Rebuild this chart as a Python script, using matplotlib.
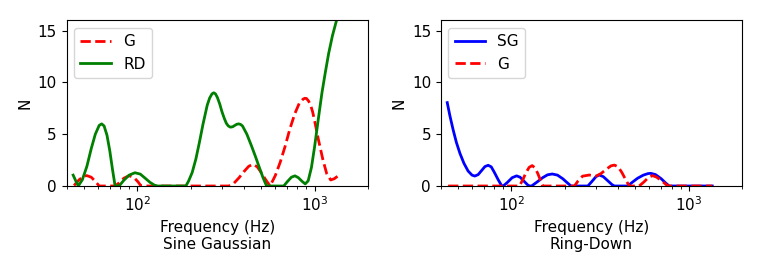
import numpy as np
import matplotlib
matplotlib.use("Agg")
import matplotlib.pyplot as plt

plt.rcParams["font.size"] = 11

# Sine Gaussian panel: values
sg_rd_freq = [43.5, 45, 46.5, 49, 52, 55, 58, 61, 63, 65, 67.5, 70, 72.5, 75, 79,
              84, 90, 97, 104, 110, 118, 125, 130, 188, 195, 204, 214, 224, 235,
              248, 256, 264, 270, 276, 283, 292, 300, 310, 318, 326, 335, 345, 355,
              364, 373, 382, 392, 415, 440, 465, 490, 512, 536, 670, 700, 740, 775,
              810, 850, 885, 920, 960, 1000, 1050, 1100, 1150, 1200, 1260, 1320, 1380]
sg_rd_n = [1.05, 0.5, 0.0, 0.6, 1.9, 3.6, 5.0, 5.85, 6.0, 5.8, 4.9, 3.4, 1.6, 0.0, 0.0,
           0.55, 1.05, 1.28, 1.15, 0.8, 0.35, 0.08, 0.0, 0.0, 0.5, 1.3, 2.6, 4.2, 6.0,
           7.8, 8.5, 8.9, 9.0, 8.9, 8.55, 7.9, 7.2, 6.5, 6.05, 5.8, 5.68, 5.72, 5.85,
           5.96, 6.0, 5.95, 5.8, 5.0, 3.9, 2.8, 1.7, 0.8, 0.0, 0.0, 0.4, 0.85, 0.98,
           0.8, 0.45, 0.2, 0.5, 1.8, 3.8, 6.5, 9.0, 11.0, 12.8, 14.5, 15.8, 17.0]

sg_g_freq = [44, 47, 50, 52, 55, 58, 61, 75, 79, 84, 90, 96, 101, 105, 328, 350,
             375, 400, 425, 449, 475, 500, 530, 561, 600, 640, 681, 725, 774, 820,
             860, 880, 900, 925, 950, 975, 1000, 1050, 1115, 1170, 1232, 1290, 1352]
sg_g_n = [0.05, 0.6, 0.95, 1.0, 0.85, 0.45, 0.0, 0.0, 0.3, 0.75, 1.0, 0.8, 0.4, 0.0,
          0.0, 0.25, 0.8, 1.4, 1.9, 2.1, 1.85, 1.3, 0.6, 0.0, 1.0, 2.3, 3.8, 5.5,
          7.0, 8.0, 8.38, 8.47, 8.45, 8.2, 7.8, 7.15, 6.3, 4.5, 2.5, 1.2, 0.58, 0.7,
          0.96]

# Ring-Down panel
rd_sg_freq = [43.5, 45, 47, 49, 51.3, 54, 57, 60, 62.2, 65, 68, 71, 74, 77, 80, 84,
              88, 90, 95, 101, 107, 112, 118, 124, 127, 130, 140, 150, 160, 170,
              182, 195, 207, 217, 270, 285, 300, 313, 330, 350, 370, 381, 452, 480,
              515, 555, 590, 612, 650, 700, 740, 776, 1358]
rd_sg_n = [8.05, 6.8, 5.4, 4.2, 3.15, 2.2, 1.45, 1.05, 0.96, 1.1, 1.5, 1.88, 2.0, 1.85,
           1.35, 0.65, 0.05, 0.0, 0.35, 0.8, 0.98, 0.85, 0.45, 0.08, 0.0, 0.0, 0.4,
           0.8, 1.08, 1.16, 1.05, 0.7, 0.3, 0.0, 0.0, 0.45, 0.9, 1.06, 0.9, 0.5,
           0.12, 0.0, 0.0, 0.35, 0.75, 1.05, 1.2, 1.22, 1.1, 0.7, 0.3, 0.0, 0.0]

rd_g_freq = [44, 111, 116, 121, 126, 131, 136, 141, 146, 150, 227, 238, 252, 275,
             300, 320, 345, 365, 381, 400, 420, 440, 462, 526, 560, 595, 625, 660,
             710, 750, 776, 1358]
rd_g_n = [0.0, 0.0, 0.6, 1.3, 1.8, 1.97, 1.75, 1.2, 0.55, 0.0, 0.0, 0.5, 0.95, 1.06,
          0.95, 1.2, 1.65, 1.95, 2.02, 1.85, 1.3, 0.65, 0.0, 0.0, 0.4, 0.85, 1.0,
          0.85, 0.45, 0.1, 0.0, 0.0]

fig = plt.figure(figsize=(7.63, 2.73), dpi=100)
ax1 = fig.add_axes([0.0874, 0.3187, 0.3949, 0.6069])
ax2 = fig.add_axes([0.5777, 0.3187, 0.3949, 0.6069])

ax1.plot(sg_g_freq, sg_g_n, "r--", linewidth=2, label="G")
ax1.plot(sg_rd_freq, sg_rd_n, "g-", linewidth=2, label="RD")
ax1.set_xlabel("Frequency (Hz)\nSine Gaussian")

ax2.plot(rd_sg_freq, rd_sg_n, "b-", linewidth=2, label="SG")
ax2.plot(rd_g_freq, rd_g_n, "r--", linewidth=2, label="G")
ax2.set_xlabel("Frequency (Hz)\nRing-Down")

for ax in (ax1, ax2):
    ax.set_xscale("log")
    ax.set_xlim(40, 2000)
    ax.set_ylim(0, 16)
    ax.set_yticks([0, 5, 10, 15])
    ax.set_ylabel("N")
    ax.legend(loc="upper left")

fig.savefig("out.png", dpi=100)
